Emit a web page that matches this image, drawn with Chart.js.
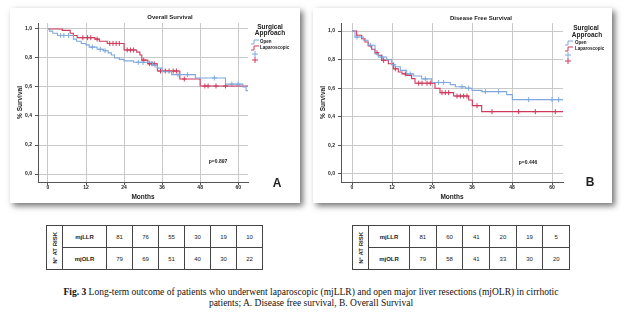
<!DOCTYPE html>
<html>
<head>
<meta charset="utf-8">
<script src="https://cdn.jsdelivr.net/npm/chart.js@4.4.1/dist/chart.umd.min.js"></script>
<style>
  html, body { margin: 0; padding: 0; background: #fff; }
  body { width: 629px; height: 315px; position: relative; overflow: hidden; font-family: 'Liberation Sans', Arial, sans-serif; }
  .card { position: absolute; background: #fff; box-shadow: 3px 3px 6px rgba(0, 0, 0, 0.55); }
  .card canvas { display: block; }
  #card-a { left: 10px; top: 8px; width: 290px; height: 195px; }
  #card-b { left: 313px; top: 8px; width: 299px; height: 195px; }
  .risk { position: absolute; top: 225px; border-collapse: collapse; table-layout: fixed; border: 1.5px solid #222; color: #222; font-size: 6px; }
  .risk td { border: 1px solid #444; height: 21px; padding: 0; text-align: center; }
  .risk td.lbl { font-weight: bold; }
  .risk td.vert { font-weight: bold; }
  .risk td.vert div { writing-mode: vertical-rl; transform: rotate(180deg); margin: 0 auto; white-space: nowrap; }
  #risk-a { left: 46px; width: 216px; }
  #risk-b { left: 352px; width: 217px; }
  #caption { position: absolute; left: 0; top: 287px; width: 622px; text-align: center; font-family: 'Liberation Serif', 'Times New Roman', serif; font-size: 9.5px; line-height: 11px; color: #111; }
</style>
</head>
<body>
<div class="card" id="card-a"><canvas id="os-chart" width="290" height="195"></canvas></div>
<div class="card" id="card-b"><canvas id="dfs-chart" width="299" height="195"></canvas></div>
<table class="risk" id="risk-a"></table>
<table class="risk" id="risk-b"></table>
<div id="caption"><b>Fig. 3</b> Long-term outcome of patients who underwent laparoscopic (mjLLR) and open major liver resections (mjOLR) in cirrhotic<br>patients; A. Disease free survival, B. Overall Survival</div>

<script>
/* ============================================
   Fig. 3 — Kaplan-Meier curves + numbers at risk
   ============================================ */

const monthTicks = [0, 12, 24, 36, 48, 60];
const survivalTicks = [0, 0.2, 0.4, 0.6, 0.8, 1.0];

// Overall survival — open (event times / survival after each step)
const osOpenTime = [0, 0.5, 1.5, 3, 8, 9, 10.5, 12, 13, 15.5, 17.5, 19, 20, 21, 22.5, 24, 27, 33, 34.5, 36, 39, 46.5, 56, 61.5, 62.5, 63.1];
const osOpenSurv = [1.0, 0.985, 0.97, 0.955, 0.93, 0.915, 0.9, 0.89, 0.875, 0.86, 0.85, 0.835, 0.82, 0.8, 0.79, 0.78, 0.77, 0.75, 0.73, 0.705, 0.685, 0.662, 0.62, 0.6, 0.575, 0.575];
const osOpenCensor = [4, 5, 6.5, 14, 16.5, 18, 28.5, 30, 33.8, 41, 44, 52.5, 58, 60];

// Overall survival — laparoscopic
const osLapTime = [0, 4.5, 7, 8, 9.2, 14.8, 16.2, 18.7, 24, 28, 29, 29.6, 31.5, 34.5, 41.6, 48, 63.1];
const osLapSurv = [1.0, 0.99, 0.97, 0.955, 0.94, 0.93, 0.915, 0.9, 0.855, 0.84, 0.82, 0.785, 0.76, 0.71, 0.655, 0.607, 0.607];
const osLapCensor = [11, 12.5, 13.5, 15.5, 19.5, 20.5, 21.5, 22.5, 25, 26, 27, 30.2, 32, 32.8, 33.5, 35.5, 37, 38.2, 39.5, 40.5, 43, 49.5, 50.5, 53, 56];

// Disease free survival — open
const dfsOpenTime = [0, 0.9, 3.4, 4.8, 6.9, 7.9, 10.4, 11.9, 12.9, 14.5, 16.4, 18.5, 20.9, 23.9, 29.5, 31, 34, 36, 39, 46.4, 48.1, 63.3];
const dfsOpenSurv = [1.0, 0.958, 0.935, 0.9, 0.84, 0.818, 0.8, 0.765, 0.75, 0.725, 0.7, 0.685, 0.665, 0.64, 0.625, 0.61, 0.6, 0.585, 0.576, 0.555, 0.52, 0.52];
const dfsOpenCensor = [1.5, 5.5, 9, 12.5, 17.5, 22, 26, 27.5, 33, 35, 40, 44, 53, 60, 62];

// Disease free survival — laparoscopic
const dfsLapTime = [0, 1.4, 2.9, 3.9, 4.9, 5.9, 6.9, 7.9, 8.9, 10.9, 12.4, 13.9, 15, 16.4, 17.9, 18.9, 24.9, 26.4, 30.5, 35, 36.1, 38.9, 63.3];
const dfsLapSurv = [1.0, 0.97, 0.946, 0.923, 0.895, 0.872, 0.848, 0.83, 0.795, 0.771, 0.736, 0.713, 0.7, 0.69, 0.667, 0.635, 0.6, 0.569, 0.545, 0.517, 0.478, 0.436, 0.436];
const dfsLapCensor = [7.5, 9.5, 13, 16, 20, 21, 22.5, 23.5, 27, 28, 29, 31.5, 32.5, 33.5, 34.5, 37.5, 42, 50, 55, 61];

// Numbers at risk
const riskRowLabels = ['mjLLR', 'mjOLR'];
const osRiskLLR = [81, 76, 55, 30, 19, 10];
const osRiskOLR = [79, 69, 51, 40, 30, 22];
const dfsRiskLLR = [81, 60, 41, 20, 19, 5];
const dfsRiskOLR = [79, 58, 41, 33, 30, 20];

const COLORS = {
  open: '#7fa9dc',
  lap: '#cf3a5c',
  grid: '#c9c9c9',
  axis: '#555',
  text: '#222'
};
const FONT = "'Liberation Sans', Arial, sans-serif";

document.addEventListener('DOMContentLoaded', () => {
  initOverallSurvival();
  initDiseaseFree();
  buildRiskTable('risk-a', osRiskLLR, osRiskOLR, 44, 26);
  buildRiskTable('risk-b', dfsRiskLLR, dfsRiskOLR, 41, 26.7);
});

/* ------------------------------------------
   Helpers
   ------------------------------------------ */
function kmPoints(times, surv) {
  return times.map((t, i) => ({ x: t, y: surv[i] }));
}

// censor ticks sit on the curve: survival at that time
function censorPoints(times, surv, censor) {
  return censor.map(t => {
    let s = surv[0];
    times.forEach((ti, i) => { if (ti <= t) s = surv[i]; });
    return { x: t, y: s };
  });
}

// draws title, legend, p-value and panel letter
const panelText = {
  id: 'panelText',
  afterDraw(chart, args, opts) {
    const ctx = chart.ctx;
    ctx.save();
    ctx.fillStyle = COLORS.text;
    ctx.textBaseline = 'middle';
    (opts.texts || []).forEach(t => {
      ctx.font = (t.bold ? 'bold ' : '') + t.size + 'px ' + FONT;
      ctx.textAlign = t.align || 'center';
      ctx.fillText(t.text, t.x, t.y);
    });
    (opts.icons || []).forEach(ic => {
      ctx.strokeStyle = ic.color;
      ctx.lineWidth = 1;
      ctx.beginPath();
      if (ic.kind === 'step') {
        ctx.moveTo(ic.x, ic.y + 2);
        ctx.lineTo(ic.x + 3, ic.y + 2);
        ctx.lineTo(ic.x + 3, ic.y - 2);
        ctx.lineTo(ic.x + 8, ic.y - 2);
      } else {
        ctx.moveTo(ic.x - 3, ic.y);
        ctx.lineTo(ic.x + 3, ic.y);
        ctx.moveTo(ic.x, ic.y - 3);
        ctx.lineTo(ic.x, ic.y + 3);
      }
      ctx.stroke();
    });
    ctx.restore();
  }
};

function createKmChart(id, cfg) {
  const ctx = document.getElementById(id);
  if (!ctx) return;

  const line = (label, data, color) => ({
    label, data, borderColor: color, backgroundColor: color,
    showLine: true, stepped: true, pointRadius: 0, borderWidth: 1.1, fill: false
  });
  const marks = (data, color) => ({
    data, borderColor: color, backgroundColor: color, showLine: false,
    pointStyle: 'cross', pointRadius: 2.5, borderWidth: 1
  });

  return new Chart(ctx, {
    type: 'scatter',
    data: {
      datasets: [
        line('Open', kmPoints(cfg.openT, cfg.openS), COLORS.open),
        line('Laparoscopic', kmPoints(cfg.lapT, cfg.lapS), COLORS.lap),
        marks(censorPoints(cfg.openT, cfg.openS, cfg.openC), COLORS.open),
        marks(censorPoints(cfg.lapT, cfg.lapS, cfg.lapC), COLORS.lap)
      ]
    },
    options: {
      responsive: false,
      animation: false,
      layout: { padding: { top: 15, right: cfg.rightPad, bottom: 0, left: 0 } },
      plugins: {
        legend: { display: false },
        tooltip: { enabled: false },
        panelText: { texts: cfg.texts, icons: cfg.icons }
      },
      scales: {
        x: {
          type: 'linear',
          min: cfg.xMin,
          max: cfg.xMax,
          afterBuildTicks: s => { s.ticks = monthTicks.map(v => ({ value: v })); },
          afterFit: s => { s.height = 21; },
          ticks: { color: COLORS.text, font: { family: FONT, size: 5, weight: 'bold' }, padding: 0, maxRotation: 0, autoSkip: false },
          grid: { color: COLORS.grid, tickColor: COLORS.axis, tickLength: 3 },
          border: { display: true, color: COLORS.axis, width: 1 },
          title: { display: true, text: 'Months', color: COLORS.text, font: { family: FONT, size: 6.5, weight: 'bold' }, padding: { top: 0, bottom: 2 } }
        },
        y: {
          min: cfg.yMin,
          max: cfg.yMax,
          afterBuildTicks: s => { s.ticks = survivalTicks.map(v => ({ value: v })); },
          afterFit: s => { s.width = 28; },
          ticks: {
            color: COLORS.text, font: { family: FONT, size: 5, weight: 'bold' }, padding: 3, autoSkip: false,
            callback: v => v.toFixed(1).replace('.', ',')
          },
          grid: { color: COLORS.grid, tickColor: COLORS.axis, tickLength: 3 },
          border: { display: true, color: COLORS.axis, width: 1 },
          title: { display: true, text: '% Survival', color: COLORS.text, font: { family: FONT, size: 6.5, weight: 'bold' }, padding: { top: 6, bottom: 0 } }
        }
      }
    },
    plugins: [panelText]
  });
}

/* ------------------------------------------
   Panel A: Overall Survival
   ------------------------------------------ */
function initOverallSurvival() {
  createKmChart('os-chart', {
    openT: osOpenTime, openS: osOpenSurv, openC: osOpenCensor,
    lapT: osLapTime, lapS: osLapSurv, lapC: osLapCensor,
    xMin: -3.15, xMax: 63.1, yMin: -0.055, yMax: 1.041,
    rightPad: 52,
    texts: [
      { text: 'Overall Survival', x: 160, y: 9, size: 6, bold: true },
      { text: 'Surgical', x: 260, y: 19, size: 6.5, bold: true },
      { text: 'Approach', x: 260, y: 25, size: 6.5, bold: true },
      { text: 'Open', x: 250, y: 34, size: 4.5, bold: true, align: 'left' },
      { text: 'Laparoscopic', x: 250, y: 40, size: 4.5, bold: true, align: 'left' },
      { text: 'p=0.897', x: 208, y: 154, size: 5, bold: true },
      { text: 'A', x: 267, y: 176, size: 12, bold: true }
    ],
    icons: [
      { kind: 'step', x: 241, y: 34, color: COLORS.open },
      { kind: 'step', x: 241, y: 40, color: COLORS.lap },
      { kind: 'cross', x: 245, y: 46, color: COLORS.open },
      { kind: 'cross', x: 245, y: 52, color: COLORS.lap }
    ]
  });
}

/* ------------------------------------------
   Panel B: Disease Free Survival
   ------------------------------------------ */
function initDiseaseFree() {
  createKmChart('dfs-chart', {
    openT: dfsOpenTime, openS: dfsOpenSurv, openC: dfsOpenCensor,
    lapT: dfsLapTime, lapS: dfsLapSurv, lapC: dfsLapCensor,
    xMin: -3.3, xMax: 63.3, yMin: -0.056, yMax: 1.056,
    rightPad: 49,
    texts: [
      { text: 'Disease Free Survival', x: 168, y: 10, size: 6, bold: true },
      { text: 'Surgical', x: 273, y: 20, size: 6.5, bold: true },
      { text: 'Approach', x: 274, y: 27, size: 6.5, bold: true },
      { text: 'Open', x: 262, y: 35, size: 4.5, bold: true, align: 'left' },
      { text: 'Laparoscopic', x: 262, y: 41, size: 4.5, bold: true, align: 'left' },
      { text: 'p=0.446', x: 215, y: 155, size: 5, bold: true },
      { text: 'B', x: 277, y: 175, size: 12, bold: true }
    ],
    icons: [
      { kind: 'step', x: 252, y: 35, color: COLORS.open },
      { kind: 'step', x: 252, y: 41, color: COLORS.lap },
      { kind: 'cross', x: 255, y: 47, color: COLORS.open },
      { kind: 'cross', x: 255, y: 53, color: COLORS.lap }
    ]
  });
}

/* ------------------------------------------
   Numbers at risk tables
   ------------------------------------------ */
function buildRiskTable(id, llr, olr, labelW, colW) {
  const table = document.getElementById(id);
  if (!table) return;
  let html = '<colgroup><col style="width:16px"><col style="width:' + labelW + 'px">';
  llr.forEach(() => { html += '<col style="width:' + colW + 'px">'; });
  html += '</colgroup>';
  [llr, olr].forEach((row, r) => {
    html += '<tr>';
    if (r === 0) html += '<td class="vert" rowspan="2"><div>N° AT RISK</div></td>';
    html += '<td class="lbl">' + riskRowLabels[r] + '</td>';
    row.forEach(v => { html += '<td>' + v + '</td>'; });
    html += '</tr>';
  });
  table.innerHTML = html;
}
</script>
</body>
</html>
